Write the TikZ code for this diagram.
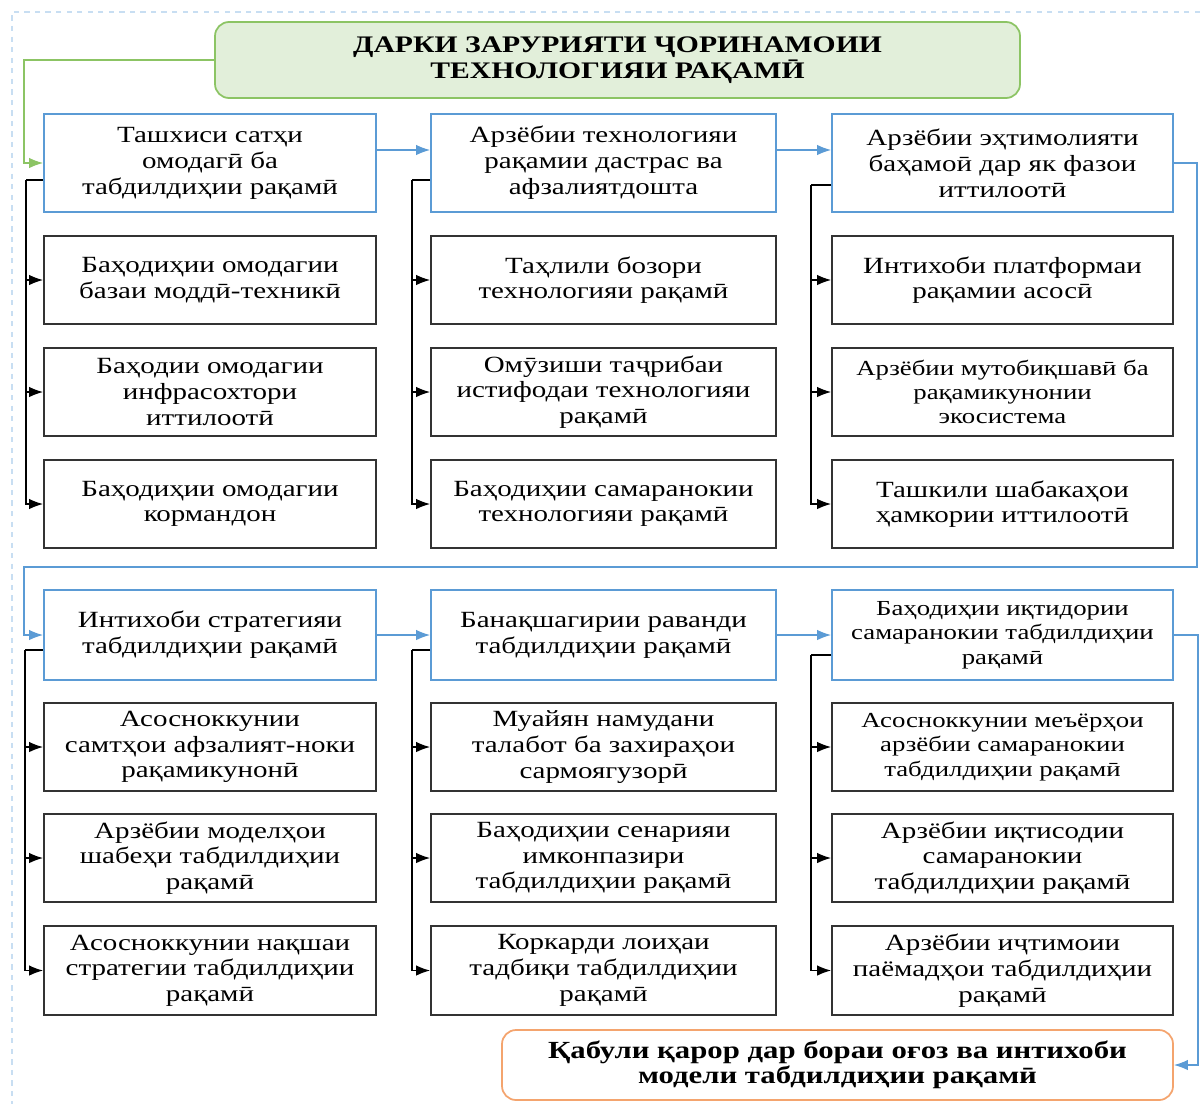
\documentclass[tikz,border=0pt]{standalone}
\usepackage{fontspec}
\setmainfont{Liberation Serif}[FakeStretch=1.25]
\usetikzlibrary{arrows.meta,positioning}
\definecolor{FrameBlue}{RGB}{200,222,242}
\definecolor{LineBlue}{RGB}{91,155,213}
\definecolor{LineGreen}{RGB}{140,196,100}
\definecolor{FillGreen}{RGB}{226,239,218}
\definecolor{LineOrange}{RGB}{244,164,110}

\begin{document}
\begin{tikzpicture}[
            head/.style={draw=LineGreen, line width=1pt, rounded corners=8pt, fill=FillGreen, minimum width=16.1cm, minimum height=1.52cm, align=center, font=\bfseries\fontsize{13.5}{15}\selectfont},
            stage/.style={draw=LineBlue, line width=1pt, fill=white, align=center, font=\fontsize{13.2}{14.8}\selectfont},
            item/.style={draw=black!80, line width=1pt, minimum height=1.77cm, align=center, font=\fontsize{13.2}{14.6}\selectfont},
            small/.style={font=\fontsize{12.2}{13.8}\selectfont},
            final/.style={draw=LineOrange, line width=1pt, rounded corners=8pt, minimum width=13.42cm, minimum height=1.4cm, align=center, font=\bfseries\fontsize{14}{14.5}\selectfont},
            arr/.style={-{Latex[length=8pt,width=6pt]}, thick},
            barr/.style={arr, draw=LineBlue},
            garr/.style={arr, draw=LineGreen}
        ]
            \useasboundingbox (0,0) rectangle (24,-22.08);
            \draw[FrameBlue, dashed, thick] (24,-0.24) -| (0.24,-22.08);

            \node[head] (title) at (12.35,-1.2) {ДАРКИ ЗАРУРИЯТИ ҶОРИНАМОИИ\\ТЕХНОЛОГИЯИ РАҚАМӢ};

            % first row
            \node[stage, minimum width=6.64cm, minimum height=1.96cm] (diag)  at (4.2,-3.26)   {Ташхиси сатҳи\\омодагӣ ба\\табдилдиҳии рақамӣ};
            \node[stage, minimum width=6.9cm,  minimum height=1.96cm] (tech)  at (12.07,-3.26) {Арзёбии технологияи\\рақамии дастрас ва\\афзалиятдошта};
            \node[stage, minimum width=6.82cm, minimum height=1.96cm] (integ) at (20.05,-3.26) {Арзёбии эҳтимолияти\\баҳамоӣ дар як фазои\\иттилоотӣ};

            \node[item, minimum width=6.64cm] (diag1) at (4.2,-5.6)   {Баҳодиҳии омодагии\\базаи моддӣ-техникӣ};
            \node[item, minimum width=6.64cm] (diag2) at (4.2,-7.84)  {Баҳодии омодагии\\инфрасохтори\\иттилоотӣ};
            \node[item, minimum width=6.64cm] (diag3) at (4.2,-10.08) {Баҳодиҳии омодагии\\кормандон};

            \node[item, minimum width=6.9cm] (tech1) at (12.07,-5.6)   {Таҳлили бозори\\технологияи рақамӣ};
            \node[item, minimum width=6.9cm] (tech2) at (12.07,-7.84)  {Омӯзиши таҷрибаи\\истифодаи технологияи\\рақамӣ};
            \node[item, minimum width=6.9cm] (tech3) at (12.07,-10.08) {Баҳодиҳии самаранокии\\технологияи рақамӣ};

            \node[item, minimum width=6.82cm] (integ1) at (20.05,-5.6)   {Интихоби платформаи\\рақамии асосӣ};
            \node[item, small, minimum width=6.82cm] (integ2) at (20.05,-7.84)  {Арзёбии мутобиқшавӣ ба\\рақамикунонии\\экосистема};
            \node[item, minimum width=6.82cm] (integ3) at (20.05,-10.08) {Ташкили шабакаҳои\\ҳамкории иттилоотӣ};

            % second row
            \node[stage, minimum width=6.64cm, minimum height=1.8cm] (strat)  at (4.2,-12.7)   {Интихоби стратегияи\\табдилдиҳии рақамӣ};
            \node[stage, minimum width=6.9cm,  minimum height=1.8cm] (plan)   at (12.07,-12.7) {Банақшагирии раванди\\табдилдиҳии рақамӣ};
            \node[stage, small, minimum width=6.82cm, minimum height=1.8cm] (effect) at (20.05,-12.7) {Баҳодиҳии иқтидории\\самаранокии табдилдиҳии\\рақамӣ};

            \node[item, minimum width=6.64cm] (strat1) at (4.2,-14.94) {Асосноккунии\\самтҳои афзалият-ноки\\рақамикунонӣ};
            \node[item, minimum width=6.64cm] (strat2) at (4.2,-17.16) {Арзёбии моделҳои\\шабеҳи табдилдиҳии\\рақамӣ};
            \node[item, minimum width=6.64cm] (strat3) at (4.2,-19.41) {Асосноккунии нақшаи\\стратегии табдилдиҳии\\рақамӣ};

            \node[item, minimum width=6.9cm] (plan1) at (12.07,-14.94) {Муайян намудани\\талабот ба захираҳои\\сармоягузорӣ};
            \node[item, minimum width=6.9cm] (plan2) at (12.07,-17.16) {Баҳодиҳии сенарияи\\имконпазири\\табдилдиҳии рақамӣ};
            \node[item, minimum width=6.9cm] (plan3) at (12.07,-19.41) {Коркарди лоиҳаи\\тадбиқи табдилдиҳии\\рақамӣ};

            \node[item, small, minimum width=6.82cm] (effect1) at (20.05,-14.94) {Асосноккунии меъёрҳои\\арзёбии самаранокии\\табдилдиҳии рақамӣ};
            \node[item, minimum width=6.82cm] (effect2) at (20.05,-17.16) {Арзёбии иқтисодии\\самаранокии\\табдилдиҳии рақамӣ};
            \node[item, minimum width=6.82cm] (effect3) at (20.05,-19.41) {Арзёбии иҷтимоии\\паёмадҳои табдилдиҳии\\рақамӣ};

            \node[final] (final) at (16.75,-21.3) {Қабули қарор дар бораи оғоз ва интихоби\\модели табдилдиҳии рақамӣ};

            % main flow
            \draw[garr] (title.west) -| ([xshift=-3.8mm]diag.west) -- (diag.west);
            \draw[barr] ([yshift=2.6mm]diag.east) -- ([yshift=2.6mm]diag.east -| tech.west);
            \draw[barr] ([yshift=2.6mm]tech.east) -- ([yshift=2.6mm]tech.east -| integ.west);
            \draw[barr] (integ.east) -| (23.94,-11.34) -| ([xshift=-3.8mm]strat.west) -- (strat.west);
            \draw[barr] (strat.east) -- (plan.west);
            \draw[barr] (plan.east) -- (effect.west);
            \draw[barr] (effect.east) -- ++(0.48,0) |- (final.east);

            % branches
            \draw[thick] ([yshift=-3.4mm]diag.west) -- ++(-3.4mm,0) coordinate (diagbus);
            \draw[thick] ([yshift=-3.4mm]tech.west) -- ++(-3.6mm,0) coordinate (techbus);
            \draw[thick] ([yshift=-4.4mm]integ.west) -- ++(-4mm,0) coordinate (integbus);
            \draw[thick] ([yshift=-3mm]strat.west) -- ++(-3.6mm,0) coordinate (stratbus);
            \draw[thick] ([yshift=-3mm]plan.west) -- ++(-3.6mm,0) coordinate (planbus);
            \draw[thick] ([yshift=-4mm]effect.west) -- ++(-4mm,0) coordinate (effectbus);
            \foreach \col in {diag,tech,integ,strat,plan,effect}
              \foreach \k in {1,2,3}
                \draw[arr] (\col bus) |- (\col\k.west);
        \end{tikzpicture}
\end{document}
